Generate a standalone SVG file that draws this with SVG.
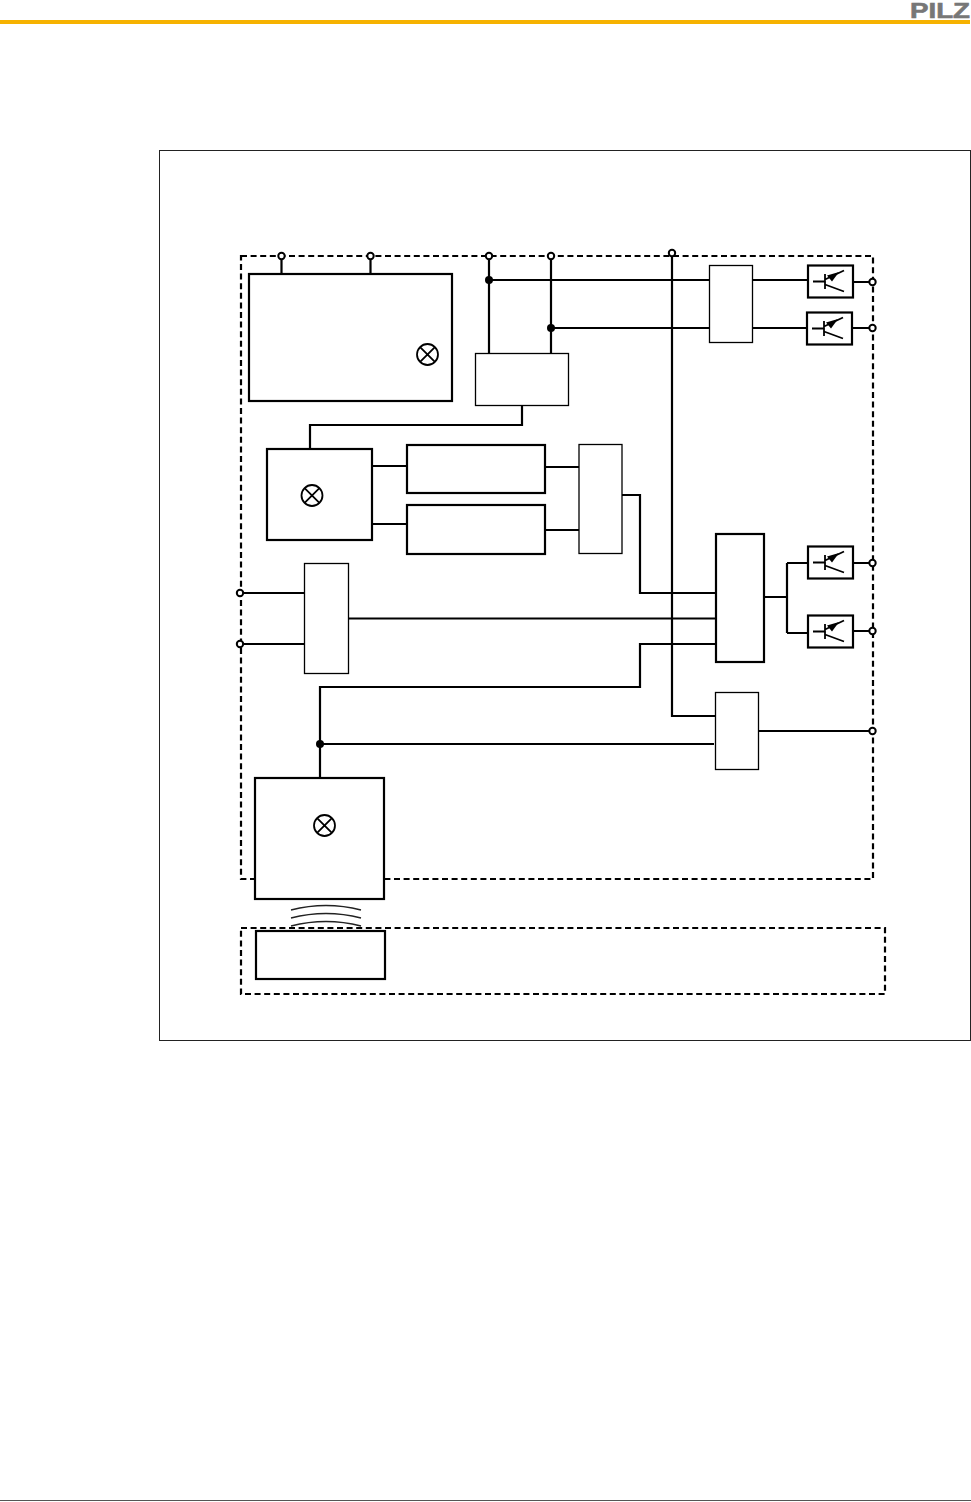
<svg xmlns="http://www.w3.org/2000/svg" width="971" height="1502" viewBox="0 0 971 1502">
<style>
.b{fill:#fff;stroke:#000;stroke-width:2.2}
.t{fill:#fff;stroke:#000;stroke-width:1.3}
.d{fill:none;stroke:#000;stroke-width:2.200;stroke-dasharray:6 3.6}
.w{fill:none;stroke:#000;stroke-width:2.200}
.s{fill:none;stroke:#000;stroke-width:1.800}
.o{fill:#fff;stroke:#000;stroke-width:2}
.j{fill:#000}
.a{fill:none;stroke:#222;stroke-width:1.400}
</style>
<defs>
<circle id="term" r="3.200" class="o"/>
<circle id="dot" r="4" class="j"/>
<g id="lamp"><circle r="10.500" class="s"/><path class="s" d="M-7.400-7.400 7.400 7.400M-7.400 7.400 7.400-7.400"/></g>
<g id="trans"><rect x="0" y="0" width="45" height="32" class="b"/><path class="s" d="M5 16H17M17 8.500V23.500M17 14 36 5M17 19 36 26"/><path class="j" d="M19 10 31 6.500 24 16Z"/></g>
</defs>
<rect width="971" height="1502" fill="#fff"/>
<g id="header">
<rect x="0" y="20" width="970" height="4" fill="#f6b200"/>
<text x="910" y="17.500" font-family="Liberation Sans, Arial, sans-serif" font-weight="700" font-size="22.500" fill="#777" stroke="#777" stroke-width="0.600" textLength="60" lengthAdjust="spacingAndGlyphs">PILZ</text>
<rect x="0" y="1500" width="971" height="1" fill="#555"/>
</g>
<rect id="frame" x="159.500" y="150.500" width="811" height="890" fill="none" stroke="#222" stroke-width="1"/>
<g id="boundaries">
<rect x="241" y="256" width="632" height="623" class="d"/>
<rect x="241" y="928" width="644" height="66" class="d"/>
</g>
<g id="connectors">
<path class="w" d="M281.500 256V274M370.500 256V274"/>
<path class="w" d="M489 256V354M551 256V354M489 280H710M551 328H710"/>
<path class="w" d="M672 254V716H716"/>
<path class="w" d="M752 280H808M752 328H807M853 282H872M852 328H872"/>
<path class="w" d="M522 405V425H310V449"/>
<path class="w" d="M372 466H407M372 524H407M545 467H579M545 530H579"/>
<path class="w" d="M622 495H640V593H716"/>
<path class="w" d="M240 593H304M240 644H304M348 618.500H716"/>
<path class="w" d="M320 778V687H640V644H716"/>
<path class="w" d="M320 744H714"/>
<path class="w" d="M764 597H787M787 563V633M787 563H808M787 633H808M853 563H872M853 631H872"/>
<path class="w" d="M759 731H872"/>
</g>
<g id="junctions">
<use href="#dot" x="489" y="280"/>
<use href="#dot" x="551" y="328"/>
<use href="#dot" x="320" y="744"/>
</g>
<g id="terminals">
<use href="#term" x="281.500" y="256"/>
<use href="#term" x="370.500" y="256"/>
<use href="#term" x="489" y="256"/>
<use href="#term" x="551" y="256"/>
<use href="#term" x="672" y="253"/>
<use href="#term" x="872.500" y="282"/>
<use href="#term" x="872.500" y="328"/>
<use href="#term" x="872.500" y="563"/>
<use href="#term" x="872.500" y="631"/>
<use href="#term" x="872.500" y="731"/>
<use href="#term" x="240" y="593"/>
<use href="#term" x="240" y="644"/>
</g>
<g id="node-top-left"><rect x="249" y="274" width="203" height="127" class="b"/><use href="#lamp" x="427.500" y="354.500"/></g>
<g id="node-supply"><rect x="475.500" y="353.500" width="93" height="52" class="t"/></g>
<g id="node-top-logic"><rect x="709.500" y="265.500" width="43" height="77" class="t"/></g>
<g id="node-t1"><use href="#trans" x="808" y="265.500"/></g>
<g id="node-t2"><use href="#trans" x="807" y="312.500"/></g>
<g id="node-lamp-mid"><rect x="267" y="449" width="105" height="91" class="b"/><use href="#lamp" x="312" y="495.500"/></g>
<g id="node-mid-a"><rect x="407" y="445" width="138" height="48" class="b"/></g>
<g id="node-mid-b"><rect x="407" y="505" width="138" height="49" class="b"/></g>
<g id="node-mid-c"><rect x="579" y="444.500" width="43" height="109" class="t"/></g>
<g id="node-input"><rect x="304.500" y="563.500" width="44" height="110" class="t"/></g>
<g id="node-logic"><rect x="716" y="534" width="48" height="128" class="b"/></g>
<g id="node-t3"><use href="#trans" x="808" y="546.500"/></g>
<g id="node-t4"><use href="#trans" x="808" y="615.500"/></g>
<g id="node-out"><rect x="715.500" y="692.500" width="43" height="77" class="t"/></g>
<g id="node-lamp-low"><rect x="255" y="778" width="129" height="121" class="b"/><use href="#lamp" x="324.500" y="825.500"/></g>
<g id="waves">
<path class="a" d="M291 910Q326 901 361 910M291 918Q326 909 361 918M291 926Q326 917 361 926"/>
</g>
<g id="node-actuator"><rect x="256" y="931" width="129" height="48" class="b"/></g>
</svg>
